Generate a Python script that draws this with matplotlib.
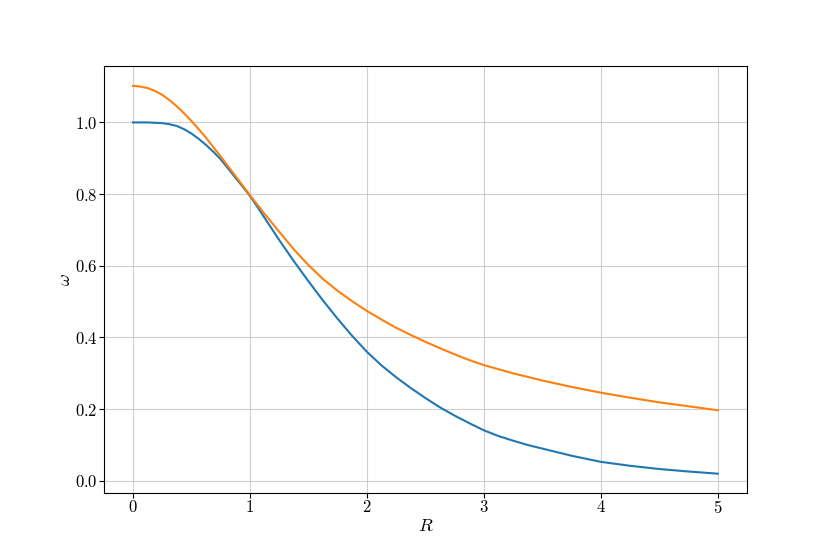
import matplotlib
matplotlib.use("Agg")
import matplotlib.pyplot as plt
from matplotlib.ticker import FormatStrFormatter

# Data
R_blue = [0.0, 0.0625, 0.125, 0.1875, 0.25, 0.3125, 0.375, 0.4375, 0.5, 0.5625, 0.625,
          0.6875, 0.75, 0.8125, 0.875, 0.9375, 1.0, 1.0625, 1.125, 1.25, 1.375,
          1.5, 1.625, 1.75, 1.875, 2.0, 2.125, 2.25, 2.375, 2.5, 2.625, 2.75, 2.875,
          3.0, 3.125, 3.25, 3.375, 3.5, 3.75, 4.0, 4.25, 4.5, 4.75, 5.0]
omega_blue = [1.000, 1.000, 1.000, 0.999, 0.998, 0.995, 0.990, 0.981, 0.969, 0.954, 0.937,
              0.918, 0.897, 0.872, 0.846, 0.821, 0.795, 0.765, 0.734, 0.672, 0.613,
              0.557, 0.503, 0.452, 0.404, 0.360, 0.322, 0.289, 0.259, 0.231, 0.205,
              0.182, 0.161, 0.141, 0.125, 0.112, 0.100, 0.090, 0.070, 0.053, 0.042,
              0.033, 0.026, 0.020]

R_orange = [0.0, 0.0625, 0.125, 0.1875, 0.25, 0.3125, 0.375, 0.4375, 0.5, 0.5625, 0.625,
            0.6875, 0.75, 0.8125, 0.875, 0.9375, 1.0, 1.125, 1.25, 1.375,
            1.5, 1.625, 1.75, 1.875, 2.0, 2.125, 2.25, 2.375, 2.5, 2.625, 2.75, 2.875,
            3.0, 3.25, 3.5, 3.75, 4.0, 4.25, 4.5, 4.75, 5.0]
omega_orange = [1.102, 1.100, 1.096, 1.088, 1.077, 1.062, 1.045, 1.025, 1.004, 0.981,
                0.957, 0.931, 0.905, 0.878, 0.851, 0.824, 0.797, 0.745, 0.695, 0.646,
                0.602, 0.563, 0.530, 0.501, 0.474, 0.450, 0.427, 0.407, 0.388, 0.370,
                0.353, 0.337, 0.323, 0.300, 0.280, 0.262, 0.246, 0.232, 0.219, 0.208,
                0.197]

x_ticks = [0, 1, 2, 3, 4, 5]
y_ticks = [0.0, 0.2, 0.4, 0.6, 0.8, 1.0]
x_label = r"$R$"
y_label = r"$\omega$"

plt.rcParams["mathtext.fontset"] = "cm"
plt.rcParams["font.family"] = ["cmr10", "DejaVu Sans"]
plt.rcParams["axes.formatter.use_mathtext"] = True

fig, ax = plt.subplots(figsize=(8.3, 5.54), dpi=100)
ax.plot(R_blue, omega_blue, color="C0", lw=1.5)
ax.plot(R_orange, omega_orange, color="C1", lw=1.5)

ax.set_xticks(x_ticks)
ax.set_yticks(y_ticks)
ax.xaxis.set_major_formatter(FormatStrFormatter(r"$%d$"))
ax.yaxis.set_major_formatter(FormatStrFormatter(r"$%.1f$"))
ax.tick_params(axis="both", labelsize=12)
ax.tick_params(axis="y", pad=1.0)
ax.tick_params(axis="x", pad=0.8)
ax.set_xlabel(x_label, fontsize=13, labelpad=1.5)
ax.set_ylabel(y_label, fontsize=13, labelpad=1.0)
ax.grid(True, alpha=0.6)

fig.savefig("out.png", dpi=100)
